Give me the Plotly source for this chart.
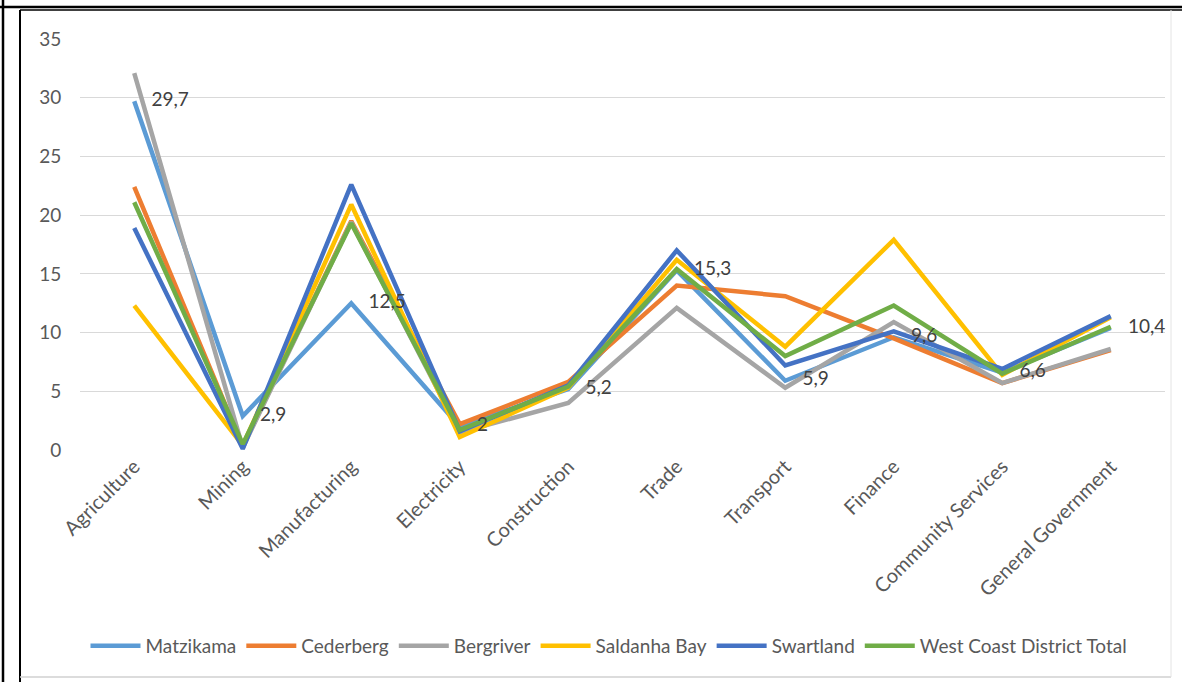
import plotly.graph_objects as go

# Sector shares by municipality (%)
sectors = ["Agriculture", "Mining", "Manufacturing", "Electricity", "Construction",
           "Trade", "Transport", "Finance", "Community Services", "General Government"]

matzikama = [29.7, 2.9, 12.5, 2.0, 5.2, 15.3, 5.9, 9.6, 6.6, 10.4]
cederberg = [22.4, 0.3, 19.5, 2.2, 5.8, 14.0, 13.1, 9.5, 5.7, 8.5]
bergriver = [32.1, 0.2, 19.4, 1.5, 4.0, 12.1, 5.3, 10.9, 5.7, 8.6]
saldanha_bay = [12.3, 0.4, 20.9, 1.1, 5.3, 16.2, 8.8, 17.9, 6.4, 11.3]
swartland = [18.9, 0.1, 22.6, 1.6, 5.5, 17.0, 7.2, 10.1, 6.9, 11.4]
west_coast_total = [21.1, 0.5, 19.3, 1.7, 5.4, 15.4, 8.0, 12.3, 6.5, 10.5]

series_names = ["Matzikama", "Cederberg", "Bergriver", "Saldanha Bay", "Swartland",
                "West Coast District Total"]
series_values = [matzikama, cederberg, bergriver, saldanha_bay, swartland, west_coast_total]
series_colors = ["#5B9BD5", "#ED7D31", "#A5A5A5", "#FFC000", "#4472C4", "#70AD47"]

y_ticks = [0, 5, 10, 15, 20, 25, 30, 35]

FONT = "Lato, Open Sans, sans-serif"
W, H = 1182, 682
ML, MR, MT, MB = 80, 17, 39, 232


def fx(px):
    return (px - ML) / (W - ML - MR)


def fy(py):
    return (H - MB - py) / (H - MT - MB)


def fmt(v):
    return f"{v:g}".replace(".", ",")


fig = go.Figure()
for name, vals, col in zip(series_names, series_values, series_colors):
    fig.add_trace(go.Scatter(
        x=sectors, y=vals, name=name, mode="lines",
        line=dict(color=col, width=4.5),
        cliponaxis=False,
    ))

# Value labels for Matzikama; an invisible marker pads the text off the point
fig.add_trace(go.Scatter(
    x=sectors, y=matzikama, mode="markers+text", showlegend=False, hoverinfo="skip",
    marker=dict(size=26, opacity=0, color="#5B9BD5"),
    text=[fmt(v) for v in matzikama],
    textposition="middle right",
    textfont=dict(family=FONT, size=19, color="#404040"),
    cliponaxis=False,
))

shapes = [
    # outer frame
    dict(type="line", xref="paper", yref="paper", x0=fx(3), x1=fx(3), y0=fy(0), y1=fy(H),
         line=dict(color="black", width=2.5)),
    dict(type="line", xref="paper", yref="paper", x0=fx(0), x1=fx(W), y0=fy(7), y1=fy(7),
         line=dict(color="black", width=2.5)),
    # chart area border
    dict(type="line", xref="paper", yref="paper", x0=fx(20), x1=fx(20), y0=fy(10), y1=fy(H),
         line=dict(color="black", width=2)),
    dict(type="line", xref="paper", yref="paper", x0=fx(20), x1=fx(W), y0=fy(10), y1=fy(10),
         line=dict(color="black", width=1.5)),
    dict(type="line", xref="paper", yref="paper", x0=fx(20), x1=fx(1171), y0=fy(677), y1=fy(677),
         line=dict(color="#D0D0D0", width=1.5)),
    dict(type="line", xref="paper", yref="paper", x0=fx(1171), x1=fx(1171), y0=fy(10), y1=fy(677),
         line=dict(color="#E4E4E4", width=1)),
]

fig.update_layout(
    width=W, height=H,
    margin=dict(l=ML, r=MR, t=MT, b=MB),
    paper_bgcolor="white", plot_bgcolor="white",
    font=dict(family=FONT, size=19, color="#595959"),
    showlegend=True,
    legend=dict(orientation="h", x=fx(609), xanchor="center", y=fy(646), yanchor="middle",
                font=dict(family=FONT, size=19, color="#595959"),
                itemwidth=50, tracegroupgap=0),
    shapes=shapes,
    xaxis=dict(range=[-0.5, 9.5], tickangle=-45, showgrid=False, zeroline=False,
               showline=False, ticks="", tickfont=dict(size=20, color="#595959")),
    yaxis=dict(range=[0, 35], tickvals=y_ticks, showgrid=True, gridcolor="#D9D9D9",
               gridwidth=1.2, zeroline=False, showline=False, ticks="outside", ticklen=14,
               tickcolor="rgba(0,0,0,0)", tickfont=dict(size=19, color="#595959")),
)

fig.write_html("out.html")
